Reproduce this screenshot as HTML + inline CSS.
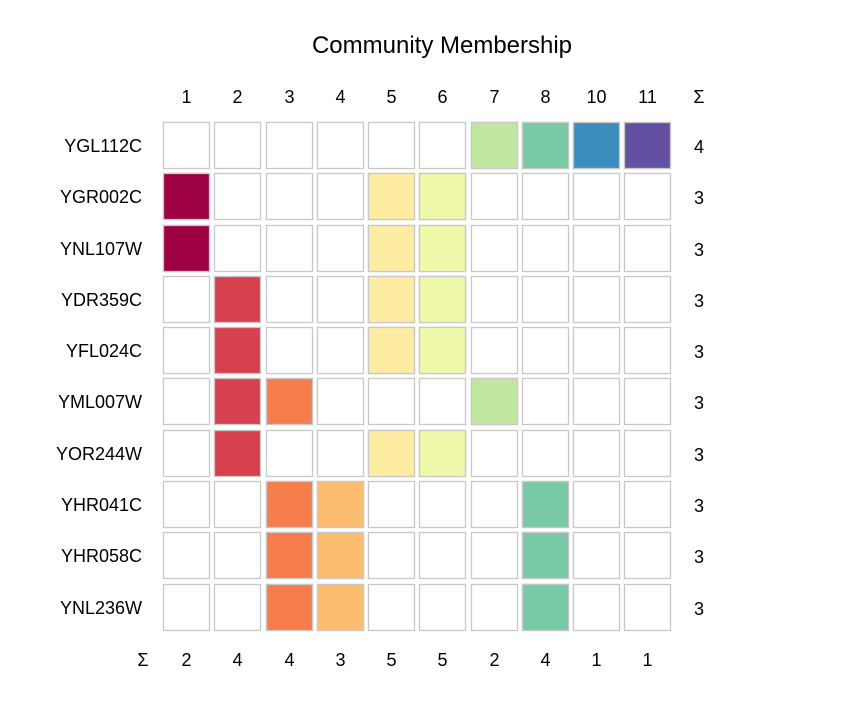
<!DOCTYPE html><html><head><style>body{margin:0;background:#fff}svg{display:block}text{font-family:"Liberation Sans",Arial,sans-serif;fill:#000}</style></head><body>
<svg width="860" height="710" xmlns="http://www.w3.org/2000/svg" xmlns:xlink="http://www.w3.org/1999/xlink">
<defs>
<g id="row" fill="#fff" stroke="#c8c8c8" stroke-width="1.3">
<rect x="163.5" y="0.5" width="46" height="46"/><rect x="214.5" y="0.5" width="46" height="46"/><rect x="266.5" y="0.5" width="46" height="46"/><rect x="317.5" y="0.5" width="46" height="46"/><rect x="368.5" y="0.5" width="46" height="46"/><rect x="419.5" y="0.5" width="46" height="46"/><rect x="471.5" y="0.5" width="46" height="46"/><rect x="522.5" y="0.5" width="46" height="46"/><rect x="573.5" y="0.5" width="46" height="46"/><rect x="624.5" y="0.5" width="46" height="46"/>
</g>
</defs>
<text x="442" y="53" font-size="24" text-anchor="middle">Community Membership</text>
<g font-size="18" text-anchor="middle">
<text x="186.5" y="103">1</text><text x="237.5" y="103">2</text><text x="289.5" y="103">3</text><text x="340.5" y="103">4</text><text x="391.5" y="103">5</text><text x="442.5" y="103">6</text><text x="494.5" y="103">7</text><text x="545.5" y="103">8</text><text x="596.5" y="103">10</text><text x="647.5" y="103">11</text><text x="699" y="103">Σ</text>
<text x="143" y="666">Σ</text>
<text x="186.5" y="666">2</text><text x="237.5" y="666">4</text><text x="289.5" y="666">4</text><text x="340.5" y="666">3</text><text x="391.5" y="666">5</text><text x="442.5" y="666">5</text><text x="494.5" y="666">2</text><text x="545.5" y="666">4</text><text x="596.5" y="666">1</text><text x="647.5" y="666">1</text>
<text x="699" y="153">4</text><text x="699" y="204">3</text><text x="699" y="256">3</text><text x="699" y="307">3</text><text x="699" y="358">3</text><text x="699" y="409">3</text><text x="699" y="461">3</text><text x="699" y="512">3</text><text x="699" y="563">3</text><text x="699" y="615">3</text>
</g>
<g font-size="18" text-anchor="end">
<text x="142" y="152">YGL112C</text><text x="142" y="203">YGR002C</text><text x="142" y="255">YNL107W</text><text x="142" y="306">YDR359C</text><text x="142" y="357">YFL024C</text><text x="142" y="408">YML007W</text><text x="142" y="460">YOR244W</text><text x="142" y="511">YHR041C</text><text x="142" y="562">YHR058C</text><text x="142" y="614">YNL236W</text>
</g>
<use xlink:href="#row" href="#row" y="122"/><use xlink:href="#row" href="#row" y="173"/><use xlink:href="#row" href="#row" y="225"/><use xlink:href="#row" href="#row" y="276"/><use xlink:href="#row" href="#row" y="327"/><use xlink:href="#row" href="#row" y="378"/><use xlink:href="#row" href="#row" y="430"/><use xlink:href="#row" href="#row" y="481"/><use xlink:href="#row" href="#row" y="532"/><use xlink:href="#row" href="#row" y="584"/>
<g stroke="#c8c8c8" stroke-width="1.3">
<rect x="471.5" y="122.5" width="46" height="46" fill="#c0e6a0"/><rect x="522.5" y="122.5" width="46" height="46" fill="#78caa6"/><rect x="573.5" y="122.5" width="46" height="46" fill="#3a8dbd"/><rect x="624.5" y="122.5" width="46" height="46" fill="#6450a3"/>
<rect x="163.5" y="173.5" width="46" height="46" fill="#9e0142"/><rect x="368.5" y="173.5" width="46" height="46" fill="#feeca2"/><rect x="419.5" y="173.5" width="46" height="46" fill="#eff7a8"/>
<rect x="163.5" y="225.5" width="46" height="46" fill="#9e0142"/><rect x="368.5" y="225.5" width="46" height="46" fill="#feeca2"/><rect x="419.5" y="225.5" width="46" height="46" fill="#eff7a8"/>
<rect x="214.5" y="276.5" width="46" height="46" fill="#d6404f"/><rect x="368.5" y="276.5" width="46" height="46" fill="#feeca2"/><rect x="419.5" y="276.5" width="46" height="46" fill="#eff7a8"/>
<rect x="214.5" y="327.5" width="46" height="46" fill="#d6404f"/><rect x="368.5" y="327.5" width="46" height="46" fill="#feeca2"/><rect x="419.5" y="327.5" width="46" height="46" fill="#eff7a8"/>
<rect x="214.5" y="378.5" width="46" height="46" fill="#d6404f"/><rect x="266.5" y="378.5" width="46" height="46" fill="#f57c4b"/><rect x="471.5" y="378.5" width="46" height="46" fill="#c0e6a0"/>
<rect x="214.5" y="430.5" width="46" height="46" fill="#d6404f"/><rect x="368.5" y="430.5" width="46" height="46" fill="#feeca2"/><rect x="419.5" y="430.5" width="46" height="46" fill="#eff7a8"/>
<rect x="266.5" y="481.5" width="46" height="46" fill="#f57c4b"/><rect x="317.5" y="481.5" width="46" height="46" fill="#fdbd70"/><rect x="522.5" y="481.5" width="46" height="46" fill="#78caa6"/>
<rect x="266.5" y="532.5" width="46" height="46" fill="#f57c4b"/><rect x="317.5" y="532.5" width="46" height="46" fill="#fdbd70"/><rect x="522.5" y="532.5" width="46" height="46" fill="#78caa6"/>
<rect x="266.5" y="584.5" width="46" height="46" fill="#f57c4b"/><rect x="317.5" y="584.5" width="46" height="46" fill="#fdbd70"/><rect x="522.5" y="584.5" width="46" height="46" fill="#78caa6"/>
</g>
</svg></body></html>
